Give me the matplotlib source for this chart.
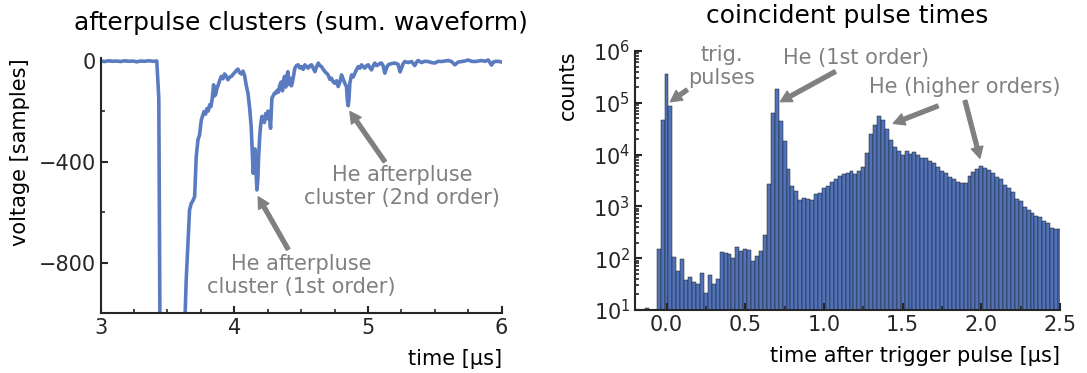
import numpy as np
import matplotlib
matplotlib.use("Agg")
import matplotlib.pyplot as plt
from matplotlib.ticker import MultipleLocator, LogLocator, NullFormatter

# --- left panel: summed waveform (time in us, voltage in samples) ---
wave_t = [3.00, 3.03, 3.06, 3.09, 3.12, 3.15, 3.18, 3.21, 3.24, 3.27, 3.30, 3.33, 3.36, 3.39, 3.42,
          3.435, 3.445, 3.62, 3.64, 3.655, 3.665, 3.678, 3.69, 3.703, 3.715, 3.728, 3.740, 3.753,
          3.765, 3.773, 3.785, 3.795, 3.805, 3.815, 3.825, 3.835, 3.845, 3.852, 3.860, 3.870, 3.880,
          3.890, 3.902, 3.915, 3.927, 3.94, 3.952, 3.965, 3.977, 3.99, 4.002, 4.015, 4.027, 4.04,
          4.052, 4.065, 4.077, 4.09, 4.102, 4.115, 4.126, 4.134, 4.141, 4.148, 4.155, 4.162, 4.169,
          4.176, 4.182, 4.19, 4.196, 4.206, 4.215, 4.225, 4.234, 4.245, 4.252, 4.259, 4.266, 4.271,
          4.281, 4.29, 4.301, 4.31, 4.32, 4.33, 4.339, 4.35, 4.36, 4.37, 4.376, 4.385, 4.393, 4.401,
          4.41, 4.418, 4.427, 4.435, 4.443, 4.453, 4.465, 4.478, 4.49, 4.503, 4.515, 4.528, 4.54,
          4.553, 4.565, 4.578, 4.59, 4.603, 4.615, 4.628, 4.64, 4.652, 4.665, 4.677, 4.69, 4.702,
          4.715, 4.727, 4.74, 4.752, 4.765, 4.777, 4.79, 4.802, 4.815, 4.827, 4.839, 4.846, 4.852,
          4.858, 4.864, 4.877, 4.89, 4.902, 4.915, 4.927, 4.94, 4.952, 4.965, 4.977, 4.99, 5.002,
          5.014, 5.026, 5.04, 5.051, 5.064, 5.076, 5.088, 5.101, 5.113, 5.126, 5.138, 5.151, 5.175,
          5.201, 5.225, 5.240, 5.251, 5.263, 5.276, 5.30, 5.326, 5.35, 5.365, 5.375, 5.40, 5.425,
          5.45, 5.475, 5.50, 5.525, 5.55, 5.575, 5.60, 5.625, 5.65, 5.675, 5.70, 5.725, 5.75, 5.775,
          5.80, 5.825, 5.85, 5.875, 5.90, 5.924, 5.937, 5.95, 5.975, 5.99]
wave_v = [-2, -4, -1, -3, -2, -4, -1, -3, -2, -5, -2, -3, -1, -3, -2,
          -150, -1200, -1200, -868, -700, -591, -565, -555, -538, -380, -314, -294, -235,
          -215, -202, -212, -190, -200, -175, -182, -150, -96, -140, -135, -110, -96,
          -80, -63, -72, -53, -62, -76, -66, -63, -55, -48, -40, -34, -48,
          -53, -42, -60, -100, -129, -190, -260, -354, -446, -370, -350, -430, -512,
          -470, -380, -300, -261, -221, -235, -245, -210, -230, -200, -210, -240, -268,
          -149, -140, -129, -130, -118, -125, -100, -85, -120, -75, -63, -105, -60, -44,
          -95, -70, -100, -85, -60, -30, -20, -17, -30, -24, -35, -17, -25,
          -30, -20, -17, -30, -44, -25, -10, -20, -24, -35, -43, -50, -57,
          -75, -70, -85, -90, -80, -103, -85, -57, -75, -90, -103, -160, -179,
          -150, -90, -57, -65, -50, -35, -24, -30, -17, -25, -30, -20, -17,
          -28, -37, -20, -10, -20, -17, -12, -10, -20, -50, -30, -17, -12,
          -10, -15, -45, -30, -12, -4, -8, -4, -20, -5, 0, -8, -3,
          -4, -8, -10, -3, -4, -2, 0, -4, -17, -6, -4, -2, 2, -3,
          -4, -2, 0, -3, 2, -18, -6, -4, -3, -5]

# --- right panel: histogram of coincident pulse times (bin centres in us) ---
bin_width = 0.025
bin_t = [round(-0.2 + bin_width * i, 3) for i in range(109)]
counts = [0, 0, 0, 11, 0, 0, 150, 47000, 355000, 87000,
          105, 56, 95, 38, 43, 35, 32, 51, 21, 48,
          32, 39, 129, 126, 123, 100, 166, 135, 148, 145,
          89, 112, 135, 275, 2690, 64600, 182000, 43600, 18200, 5250,
          2450, 2000, 1320, 1450, 1380, 1320, 1700, 1780, 2240, 2450,
          3020, 3390, 3800, 4170, 4370, 4900, 4270, 4790, 5750, 10700,
          25100, 38000, 55000, 45700, 31600, 19000, 13800, 11500, 10000, 11500,
          10200, 11000, 10000, 8700, 8700, 7400, 6900, 5750, 4900, 4370,
          3720, 3390, 3020, 2820, 2880, 3800, 4680, 5250, 6030, 5500,
          5010, 4470, 3720, 3310, 2570, 2290, 1910, 1380, 1290, 955,
          870, 740, 645, 617, 525, 479, 389, 363, 363]

plt.rcParams.update({
    "font.family": "DejaVu Sans",
    "font.size": 15,
    "axes.linewidth": 1.5,
    "axes.edgecolor": "#262626",
    "xtick.color": "#262626",
    "ytick.color": "#262626",
    "xtick.direction": "in",
    "ytick.direction": "in",
    "xtick.major.size": 5,
    "ytick.major.size": 5,
    "xtick.minor.size": 3,
    "ytick.minor.size": 3,
    "xtick.major.width": 1.5,
    "ytick.major.width": 1.5,
    "xtick.minor.width": 1.2,
    "ytick.minor.width": 1.2,
})

fig = plt.figure(figsize=(10.87, 3.73), dpi=100)
ax1 = fig.add_axes([0.0926, 0.160, 0.3689, 0.6845])
ax2 = fig.add_axes([0.5842, 0.1689, 0.3910, 0.6944])

ann_color = "#808080"
arrow_kw = dict(facecolor=ann_color, edgecolor=ann_color, width=2.8, headwidth=8.5,
                headlength=8, shrink=0)

# left panel
ax1.plot(wave_t, wave_v, color="#5b7bc0", lw=2.6)
ax1.set_xlim(3, 6)
ax1.set_ylim(-1000, 10)
ax1.xaxis.set_major_locator(MultipleLocator(1))
ax1.xaxis.set_minor_locator(MultipleLocator(0.25))
ax1.yaxis.set_major_locator(MultipleLocator(400))
ax1.yaxis.set_minor_locator(MultipleLocator(200))
ax1.set_title("afterpulse clusters (sum. waveform)", fontsize=18, pad=20)
ax1.set_xlabel("time [μs]", loc="right", labelpad=8)
ax1.set_ylabel("voltage [samples]", loc="top")
ax1.yaxis.set_label_coords(-0.175, 1.0)

ax1.annotate("", xy=(4.179, -539), xytext=(4.403, -747), arrowprops=arrow_kw)
ax1.annotate("", xy=(4.865, -202), xytext=(5.126, -400), arrowprops=arrow_kw)
ax1.text(4.503, -849, "He afterpluse\ncluster (1st order)", color=ann_color,
         ha="center", va="center", multialignment="center", fontsize=15)
ax1.text(5.254, -499, "He afterpluse\ncluster (2nd order)", color=ann_color,
         ha="center", va="center", multialignment="center", fontsize=15)

# right panel
bt = np.array(bin_t)
bc = np.array(counts, dtype=float)
keep = bc > 0
ax2.bar(bt[keep], bc[keep], width=bin_width, color="#4f72b8",
        edgecolor="#1e1e1e", linewidth=0.35, log=True)
ax2.set_yscale("log")
ax2.set_ylim(10, 1e6)
ax2.set_xlim(-0.2, 2.5)
ax2.xaxis.set_major_locator(MultipleLocator(0.5))
ax2.xaxis.set_minor_locator(MultipleLocator(0.25))
ax2.yaxis.set_major_locator(LogLocator(base=10, numticks=10))
ax2.yaxis.set_minor_locator(LogLocator(base=10, subs=np.arange(2, 10), numticks=20))
ax2.yaxis.set_minor_formatter(NullFormatter())
ax2.set_title("coincident pulse times", fontsize=18, pad=20)
ax2.set_xlabel("time after trigger pulse [μs]", loc="right", labelpad=8)
ax2.set_ylabel("counts", loc="top")
ax2.yaxis.set_label_coords(-0.135, 1.0)

ax2.annotate("", xy=(0.025, 1.05e5), xytext=(0.131, 1.78e5), arrowprops=arrow_kw)
ax2.annotate("", xy=(0.723, 1.05e5), xytext=(1.072, 4.0e5), arrowprops=arrow_kw)
ax2.annotate("", xy=(1.441, 4.0e4), xytext=(1.725, 8.7e4), arrowprops=arrow_kw)
ax2.annotate("", xy=(1.991, 8.5e3), xytext=(1.896, 1.1e5), arrowprops=arrow_kw)
ax2.text(0.349, 5.0e5, "trig.\npulses", color=ann_color, ha="center", va="center",
         multialignment="center", fontsize=15)
ax2.text(1.205, 7.2e5, "He (1st order)", color=ann_color, ha="center", va="center", fontsize=15)
ax2.text(1.893, 2.0e5, "He (higher orders)", color=ann_color, ha="center", va="center", fontsize=15)

for ax in (ax1, ax2):
    ax.spines["top"].set_visible(False)
    ax.spines["right"].set_visible(False)
    ax.tick_params(which="both", top=False, right=False)

fig.savefig("out.png", dpi=100)
